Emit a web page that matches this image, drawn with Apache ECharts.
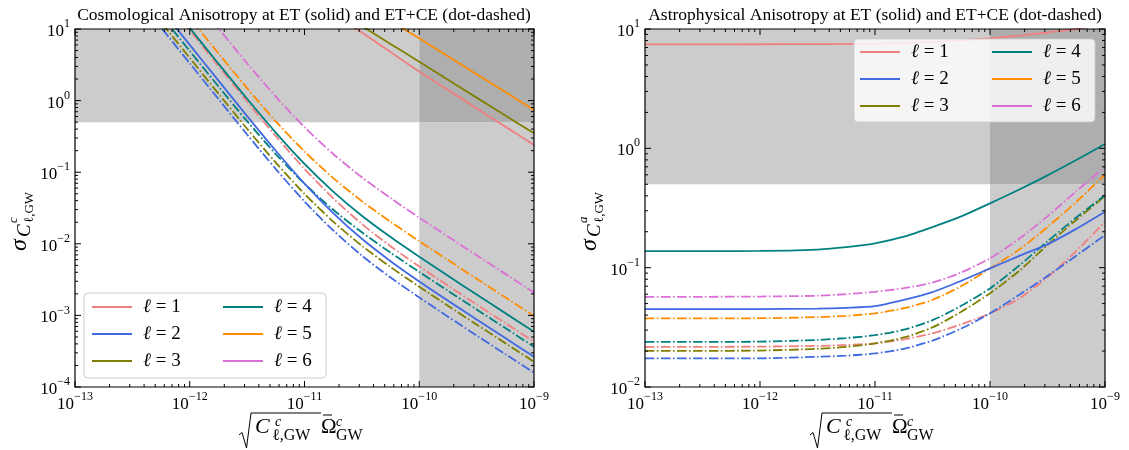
<!DOCTYPE html>
<html><head><meta charset="utf-8">
<script src="https://cdn.jsdelivr.net/npm/echarts@6/dist/echarts.min.js"></script>
<style>html,body{margin:0;padding:0;background:#fff}#c{width:1129px;height:450px}</style>
</head><body><div id="c"></div>
<script>
// ---------- data ----------
const xCosmo = [3.16e-13, 5.62e-13, 1e-12, 1.78e-12, 3.16e-12, 5.62e-12, 1e-11, 1.78e-11, 3.16e-11, 5.62e-11, 1e-10, 1.78e-10, 3.16e-10, 5.62e-10, 1e-9];
// ET (solid)
const cosmoET_l1 = [null, null, null, null, null, null, null, 16.7, 8.93, 4.76, 2.54, 1.41, 0.78, 0.433, 0.24];
const cosmoET_l2 = [60.1, 19.0, 6.006, 1.90, 0.6069, 0.1993, 0.06947, 0.0269, 0.01174, 0.005723, 0.002985, 0.001608, 0.000877, 0.000482, 0.0002649];
const cosmoET_l3 = [null, null, null, null, null, null, null, 19.5, 11.0, 6.19, 3.49, 1.96, 1.10, 0.621, 0.349];
const cosmoET_l4 = [103.2, 32.63, 10.34, 3.277, 1.060, 0.3577, 0.1307, 0.05358, 0.02466, 0.01245, 0.006607, 0.003577, 0.001959, 0.001076, 0.0005916];
const cosmoET_l5 = [null, null, null, null, null, null, null, null, 22.9, 12.9, 7.41, 4.17, 2.34, 1.32, 0.74];
const cosmoET_l6 = [null, null, null, null, null, null, null, null, null, null, null, null, null, null, null];
// ET+CE (dot-dashed)
const cosmoCE_l1 = [95.96, 30.35, 9.596, 3.035, 0.9698, 0.3186, 0.1113, 0.04322, 0.01892, 0.009249, 0.004833, 0.002606, 0.001422, 0.000782, 0.0004295];
const cosmoCE_l2 = [33.19, 10.5, 3.319, 1.05, 0.3357, 0.1107, 0.03899, 0.01538, 0.006839, 0.003381, 0.001778, 0.000961, 0.000525, 0.000288, 0.0001585];
const cosmoCE_l3 = [39.31, 12.43, 3.94, 1.249, 0.4042, 0.1363, 0.04983, 0.02042, 0.009397, 0.004742, 0.002518, 0.001363, 0.000746, 0.00041, 0.0002254];
const cosmoCE_l4 = [49.3, 15.58, 4.927, 1.573, 0.5155, 0.179, 0.06887, 0.02986, 0.01447, 0.007517, 0.004044, 0.002205, 0.001211, 0.000665, 0.0003656];
const cosmoCE_l5 = [143.5, 45.37, 14.35, 4.571, 1.492, 0.5135, 0.1944, 0.08279, 0.03946, 0.02032, 0.01088, 0.005928, 0.003251, 0.001786, 0.0009817];
const cosmoCE_l6 = [320.4, 101.4, 32.06, 10.2, 3.317, 1.135, 0.4262, 0.1796, 0.08488, 0.04346, 0.0232, 0.01262, 0.006918, 0.003802, 0.002089];

const xAstro = [1e-13, 3.16e-13, 1e-12, 3.16e-12, 5.62e-12, 1e-11, 1.78e-11, 3.16e-11, 5.62e-11, 1e-10, 1.78e-10, 3.16e-10, 5.62e-10, 1e-9];
const astroET_l1 = [7.44, 7.44, 7.45, 7.47, 7.50, 7.55, 7.65, 7.80, 8.05, 8.36, 8.80, 9.35, 9.98, 10.9];
const astroET_l2 = [0.045, 0.045, 0.045, 0.0454, 0.0461, 0.0476, 0.0537, 0.0624, 0.0776, 0.0986, 0.125, 0.1567, 0.2113, 0.294];
const astroET_l3 = [null, null, null, null, null, null, null, null, null, null, null, null, null, null];
const astroET_l4 = [0.1377, 0.1377, 0.138, 0.1419, 0.1486, 0.160, 0.182, 0.219, 0.269, 0.346, 0.4498, 0.594, 0.798, 1.086];
const astroET_l5 = [null, null, null, null, null, null, null, null, null, null, null, null, null, null];
const astroET_l6 = [null, null, null, null, null, null, null, null, null, null, null, null, null, null];
const astroCE_l1 = [0.0217, 0.0217, 0.0218, 0.0221, 0.0225, 0.0232, 0.0251, 0.0282, 0.0335, 0.0414, 0.055, 0.0832, 0.138, 0.243];
const astroCE_l2 = [0.0174, 0.0174, 0.0174, 0.0179, 0.0183, 0.0191, 0.0209, 0.0245, 0.0309, 0.0414, 0.0589, 0.0851, 0.126, 0.1875];
const astroCE_l3 = [0.0201, 0.0201, 0.0202, 0.0209, 0.0217, 0.0232, 0.026, 0.0316, 0.0427, 0.061, 0.0933, 0.155, 0.251, 0.398];
const astroCE_l4 = [0.0239, 0.0239, 0.024, 0.0248, 0.0257, 0.0272, 0.0302, 0.0363, 0.0479, 0.067, 0.1035, 0.166, 0.263, 0.405];
const astroCE_l5 = [0.0376, 0.0376, 0.0377, 0.0385, 0.0395, 0.0414, 0.0457, 0.0537, 0.070, 0.0986, 0.141, 0.219, 0.355, 0.603];
const astroCE_l6 = [0.057, 0.057, 0.0573, 0.0582, 0.060, 0.0628, 0.0673, 0.075, 0.0912, 0.1197, 0.1738, 0.2692, 0.4365, 0.7015];

const legendNames = ['ℓ = 1', 'ℓ = 2', 'ℓ = 3', 'ℓ = 4', 'ℓ = 5', 'ℓ = 6'];
const colors = ['#f08080', '#4169e1', '#808000', '#008080', '#ff8c00', '#da70d6'];
const xRange = [1e-13, 1e-9];
const yRangeCosmo = [1e-4, 10];
const yRangeAstro = [1e-2, 10];
const shadeX = 1e-10;   // detector-limited region start
const shadeY = 0.5;     // sigma threshold
const titles = ['Cosmological Anisotropy at ET (solid) and ET+CE (dot-dashed)', 'Astrophysical Anisotropy at ET (solid) and ET+CE (dot-dashed)'];

// ---------- build ----------
const FF = "'Liberation Serif','DejaVu Serif',serif";
const cosmoET = [cosmoET_l1, cosmoET_l2, cosmoET_l3, cosmoET_l4, cosmoET_l5, cosmoET_l6];
const cosmoCE = [cosmoCE_l1, cosmoCE_l2, cosmoCE_l3, cosmoCE_l4, cosmoCE_l5, cosmoCE_l6];
const astroET = [astroET_l1, astroET_l2, astroET_l3, astroET_l4, astroET_l5, astroET_l6];
const astroCE = [astroCE_l1, astroCE_l2, astroCE_l3, astroCE_l4, astroCE_l5, astroCE_l6];
const DASH = [9.6, 2.4, 1.6, 2.4];

function pairs(xs, ys) { return xs.map((x, i) => [x, ys[i] == null ? '-' : ys[i]]); }
function lineSeries(gi, xs, ys, i, dashed) {
  return {
    type: 'line', name: dashed ? legendNames[i] + ' ET+CE' : legendNames[i],
    xAxisIndex: gi, yAxisIndex: gi, data: pairs(xs, ys), symbol: 'none', showSymbol: false, smooth: 0.25,
    clip: true, silent: true, z: dashed ? 3 : 4,
    lineStyle: { color: colors[i], width: 1.8, type: dashed ? DASH : 'solid' },
    itemStyle: { color: colors[i] }
  };
}
function shadeSeries(gi, yr) {
  return {
    type: 'custom', xAxisIndex: gi, yAxisIndex: gi, z: 1, silent: true, encode: { x: [0, 2], y: [1, 3] },
    data: [[xRange[0], shadeY, shadeX, yr[1], 0], [shadeX, yr[0], xRange[1], shadeY, 0], [shadeX, shadeY, xRange[1], yr[1], 1]],
    renderItem(p, api) {
      const a = api.coord([api.value(0), api.value(3)]);
      const b = api.coord([api.value(2), api.value(1)]);
      return { type: 'rect', shape: { x: a[0], y: a[1], width: b[0] - a[0], height: b[1] - a[1] },
        style: { fill: api.value(4) ? '#aeaeae' : '#cccccc' } };
    }
  };
}
function tickSeries(gi, yr) {
  const data = [];
  const e0 = Math.round(Math.log10(xRange[0])), e1 = Math.round(Math.log10(xRange[1]));
  for (let e = e0; e < e1; e++) for (let k = 1; k <= 9; k++) data.push([k * Math.pow(10, e), yr[0], 0, k === 1 ? 1 : 0]);
  data.push([xRange[1], yr[0], 0, 1]);
  const f0 = Math.round(Math.log10(yr[0])), f1 = Math.round(Math.log10(yr[1]));
  for (let e = f0; e < f1; e++) for (let k = 1; k <= 9; k++) data.push([xRange[0], k * Math.pow(10, e), 1, k === 1 ? 1 : 0]);
  data.push([xRange[0], yr[1], 1, 1]);
  data.push([xRange[0], yr[0], 2, 0]);
  return {
    type: 'custom', xAxisIndex: gi, yAxisIndex: gi, z: 8, silent: true, encode: { x: 0, y: 1 }, data,
    renderItem(p, api) {
      const kind = api.value(2), L = api.value(3) ? 6 : 3;
      const st = { stroke: '#000', lineWidth: 1 };
      if (kind === 0) {
        const v = api.value(0), b = api.coord([v, yr[0]]), t = api.coord([v, yr[1]]);
        return { type: 'group', children: [
          { type: 'line', shape: { x1: b[0], y1: b[1], x2: b[0], y2: b[1] - L }, style: st },
          { type: 'line', shape: { x1: t[0], y1: t[1], x2: t[0], y2: t[1] + L }, style: st }] };
      } else if (kind === 1) {
        const v = api.value(1), l = api.coord([xRange[0], v]), r = api.coord([xRange[1], v]);
        return { type: 'group', children: [
          { type: 'line', shape: { x1: l[0], y1: l[1], x2: l[0] + L, y2: l[1] }, style: st },
          { type: 'line', shape: { x1: r[0], y1: r[1], x2: r[0] - L, y2: r[1] }, style: st }] };
      }
      const a = api.coord([xRange[0], yr[1]]), b = api.coord([xRange[1], yr[0]]);
      return { type: 'rect', shape: { x: a[0], y: a[1], width: b[0] - a[0], height: b[1] - a[1] },
        style: { fill: null, stroke: '#000', lineWidth: 1.2 } };
    }
  };
}
const powRich = {
  b: { fontFamily: FF, fontSize: 17, color: '#000', verticalAlign: 'bottom', lineHeight: 22 },
  e: { fontFamily: FF, fontSize: 12, color: '#000', verticalAlign: 'top', lineHeight: 22 }
};
function powFmt(v) {
  const e = Math.round(Math.log10(v));
  return '{b|10}{e|' + (e < 0 ? '\u2212' + (-e) : e) + '}';
}
function logAxis(gi, min, max, isX) {
  return {
    type: 'log', logBase: 10, gridIndex: gi, min, max,
    axisLine: { show: false }, axisTick: { show: false }, splitLine: { show: false },
    minorTick: { show: false }, minorSplitLine: { show: false },
    axisLabel: { formatter: powFmt, rich: powRich, margin: isX ? 4 : 5, showMinLabel: true, showMaxLabel: true, color: '#000' }
  };
}

// axis titles as graphic text
function txt(t, sz, it) { return { text: t, font: (it ? 'italic ' : '') + sz + 'px ' + FF, fill: '#000', verticalAlign: 'middle', align: 'left' }; }
function xLabel(ox, oy) {
  return { type: 'group', x: ox, y: oy, z: 50, children: [
    { type: 'polyline', shape: { points: [[0, 22], [3, 19.5], [7.5, 35], [12, 0], [82, 0]] }, style: { stroke: '#000', lineWidth: 1, fill: null } },
    { type: 'text', x: 16, y: 14.5, style: txt('C', 22, true) },
    { type: 'text', x: 36, y: 9, style: txt('c', 14, true) },
    { type: 'text', x: 33, y: 23, style: txt('ℓ,GW', 16, false) },
    { type: 'text', x: 82, y: 14.5, style: txt('Ω', 21, false) },
    { type: 'line', shape: { x1: 84, y1: 2, x2: 93, y2: 2 }, style: { stroke: '#000', lineWidth: 1 } },
    { type: 'text', x: 97, y: 9, style: txt('c', 14, true) },
    { type: 'text', x: 97, y: 23, style: txt('GW', 16, false) }
  ] };
}
function yLabel(ox, oy, sup) {
  return { type: 'group', x: ox, y: oy, rotation: Math.PI / 2, z: 50, children: [
    { type: 'text', x: 0, y: -4, style: txt('σ', 24, true) },
    { type: 'text', x: 14, y: 1, style: txt('C', 19, true) },
    { type: 'text', x: 28, y: -10, style: txt(sup, 13, true) },
    { type: 'text', x: 28, y: 6, style: txt('ℓ,GW', 13, false) }
  ] };
}

const legendText = {
  fontFamily: FF, fontSize: 19, color: '#000', lineHeight: 20, padding: [0, 0, 0, 6],
  rich: { i: { fontFamily: FF, fontSize: 19, fontStyle: 'italic', color: '#000' }, r: { fontFamily: FF, fontSize: 19, color: '#000' } }
};
function legend(names, left, top) {
  return { data: names.map(n => ({ name: n, icon: 'rect' })), orient: 'vertical', left, top, itemWidth: 40, itemHeight: 2.2,
    itemGap: 7, padding: 0, selectedMode: false, z: 60, textStyle: legendText,
    formatter: n => '{i|ℓ}{r| = ' + n.slice(-1) + '}' };
}

const series = [shadeSeries(0, yRangeCosmo), shadeSeries(1, yRangeAstro)];
for (let i = 0; i < 6; i++) {
  series.push(lineSeries(0, xCosmo, cosmoCE[i], i, true));
  series.push(lineSeries(1, xAstro, astroCE[i], i, true));
}
for (let i = 0; i < 6; i++) {
  series.push(lineSeries(0, xCosmo, cosmoET[i], i, false));
  series.push(lineSeries(1, xAstro, astroET[i], i, false));
}
series.push(tickSeries(0, yRangeCosmo), tickSeries(1, yRangeAstro));

const option = {
  animation: false,
  backgroundColor: '#fff',
  grid: [
    { left: 75, top: 29, width: 459, height: 358, outerBoundsMode: 'none' },
    { left: 645, top: 29, width: 460, height: 358, outerBoundsMode: 'none' }
  ],
  xAxis: [logAxis(0, xRange[0], xRange[1], true), logAxis(1, xRange[0], xRange[1], true)],
  yAxis: [logAxis(0, yRangeCosmo[0], yRangeCosmo[1], false), logAxis(1, yRangeAstro[0], yRangeAstro[1], false)],
  legend: [
    legend(legendNames.slice(0, 3), 92, 297), legend(legendNames.slice(3), 223, 297),
    legend(legendNames.slice(0, 3), 860, 42), legend(legendNames.slice(3), 992, 42)
  ],
  graphic: [
    { type: 'text', x: 304, y: 15, z: 50, style: { text: titles[0], font: '17.5px ' + FF, fill: '#000', align: 'center', verticalAlign: 'middle' } },
    { type: 'text', x: 875, y: 15, z: 50, style: { text: titles[1], font: '17.5px ' + FF, fill: '#000', align: 'center', verticalAlign: 'middle' } },
    { type: 'rect', z: 50, shape: { x: 84, y: 293, width: 242, height: 85, r: 4 }, style: { fill: 'rgba(255,255,255,0.8)', stroke: '#cccccc', lineWidth: 1 } },
    { type: 'rect', z: 50, shape: { x: 854, y: 39, width: 241, height: 83, r: 4 }, style: { fill: 'rgba(255,255,255,0.8)', stroke: 'rgba(204,204,204,0.8)', lineWidth: 1 } },
    xLabel(239, 413),
    xLabel(810, 413),
    yLabel(24, 251, 'c'),
    yLabel(594, 251, 'a')
  ],
  series
};
const chart = echarts.init(document.getElementById('c'), null, { renderer: 'canvas' });
chart.setOption(option);
</script></body></html>
